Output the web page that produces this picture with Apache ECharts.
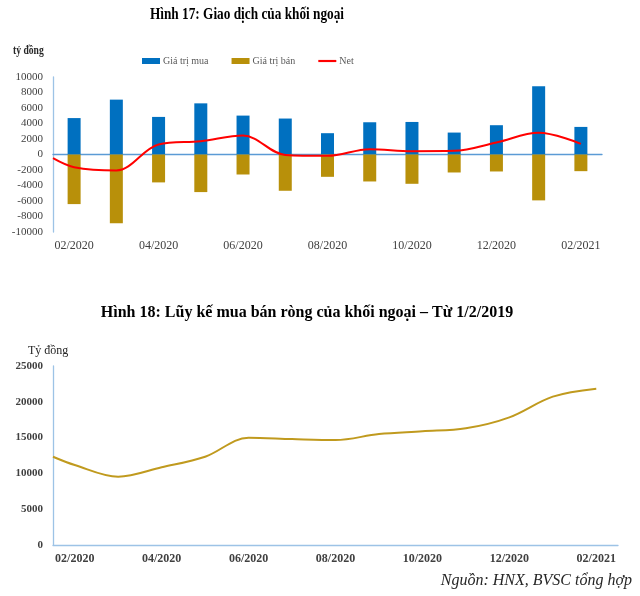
<!DOCTYPE html>
<html><head><meta charset="utf-8">
<script src="https://cdn.jsdelivr.net/npm/echarts@6/dist/echarts.min.js"></script>
<style>html,body{margin:0;padding:0;background:#fff}#c{width:640px;height:596px}</style>
</head><body><div id="c"></div>
<script>
const categories = ['02/2020','03/2020','04/2020','05/2020','06/2020','07/2020','08/2020','09/2020','10/2020','11/2020','12/2020','01/2021','02/2021'];
const buyValues  = [4700, 7080, 4850, 6600, 5020, 4640, 2750, 4160, 4200, 2830, 3780, 8800, 3560];
const sellValues = [-6400, -8880, -3600, -4850, -2580, -4680, -2880, -3480, -3780, -2320, -2190, -5920, -2150];
const netStart = -480;
const netValues  = [-1640, -2060, 1290, 1720, 2450, -50, -170, 690, 430, 470, 1550, 2800, 1380];
const cumStart = 12330;
const cumValues  = [11170, 9540, 10850, 12330, 14990, 14800, 14660, 15500, 15880, 16300, 17830, 20720, 21830];

const serif = '"Liberation Serif", "Times New Roman", serif';
const lineData = (start, vals) => [[-0.5, start]].concat(vals.map((v, i) => [i, v]));
const plain = v => String(v);

const chart = echarts.init(document.getElementById('c'), null, {renderer: 'canvas'});
chart.setOption({
  animation: false,
  backgroundColor: '#fff',
  textStyle: {fontFamily: serif},
  title: [
    {text: 'Hình 18: Lũy kế mua bán ròng của khối ngoại – Từ 1/2/2019', left: 302, top: 300, textAlign: 'center',
     textStyle: {fontFamily: serif, fontSize: 16, fontWeight: 'bold', color: '#000'}}
  ],
  graphic: [
    {type: 'text', x: 247, y: 7, scaleX: 0.83, style: {text: 'Hình 17: Giao dịch của khối ngoại', align: 'center', font: 'bold 16px ' + serif, fill: '#000'}},
    {type: 'text', x: 13, y: 45, scaleX: 0.8, style: {text: 'tỷ đồng', font: 'bold 12px ' + serif, fill: '#262626'}},
    {type: 'text', left: 28, top: 345, style: {text: 'Tỷ đồng', font: '12px ' + serif, fill: '#262626'}},
    {type: 'text', right: 8, top: 573, style: {text: 'Nguồn: HNX, BVSC tổng hợp', font: 'italic 16px ' + serif, fill: '#262626'}}
  ],
  legend: {
    left: 142, top: 56, padding: 0, itemWidth: 18, itemHeight: 6, itemGap: 23,
    textStyle: {fontFamily: serif, fontSize: 10, color: '#595959', padding: [0, 0, 0, -2]},
    data: [{name: 'Giá trị mua', icon: 'rect'}, {name: 'Giá trị bán', icon: 'rect'},
           {name: 'Net', icon: 'path://M0 0H20V2.4H0Z'}]
  },
  grid: [
    {left: 53, top: 77, width: 549, height: 155},
    {left: 53, top: 366, width: 565, height: 179}
  ],
  xAxis: [
    {gridIndex: 0, type: 'category', data: categories, boundaryGap: true,
     axisLine: {show: false, onZero: false}, axisTick: {show: false},
     axisLabel: {interval: 1, margin: 8, fontFamily: serif, fontSize: 12, color: '#404040'}},
    {gridIndex: 0, type: 'value', min: -0.5, max: 12.5, position: 'bottom',
     axisLine: {show: true, onZero: true, lineStyle: {color: '#5B9BD5', width: 1.3}},
     axisTick: {show: false}, axisLabel: {show: false}, splitLine: {show: false}},
    {gridIndex: 1, type: 'category', data: categories, boundaryGap: true,
     axisLine: {show: true, onZero: false, lineStyle: {color: '#9DC3E6', width: 1.3}}, axisTick: {show: false},
     axisLabel: {interval: 1, margin: 8, fontFamily: serif, fontSize: 12, fontWeight: 'bold', color: '#404040'}},
    {gridIndex: 1, type: 'value', min: -0.5, max: 12.5, show: false}
  ],
  yAxis: [
    {gridIndex: 0, type: 'value', min: -10000, max: 10000, interval: 2000,
     axisLine: {show: true, onZero: false, lineStyle: {color: '#9DC3E6', width: 1.3}}, axisTick: {show: false},
     splitLine: {show: false},
     axisLabel: {margin: 10, fontFamily: serif, fontSize: 11, color: '#404040', formatter: plain}},
    {gridIndex: 1, type: 'value', min: 0, max: 25000, interval: 5000,
     axisLine: {show: true, onZero: false, lineStyle: {color: '#9DC3E6', width: 1.3}}, axisTick: {show: false},
     splitLine: {show: false},
     axisLabel: {margin: 10, fontFamily: serif, fontSize: 11, fontWeight: 'bold', color: '#404040', formatter: plain}}
  ],
  series: [
    {name: 'Giá trị mua', type: 'bar', xAxisIndex: 0, yAxisIndex: 0, stack: 'gd', barWidth: 13,
     itemStyle: {color: '#0070C0'}, data: buyValues},
    {name: 'Giá trị bán', type: 'bar', xAxisIndex: 0, yAxisIndex: 0, stack: 'gd', barWidth: 13,
     itemStyle: {color: '#B8900A'}, data: sellValues},
    {name: 'Net', type: 'line', xAxisIndex: 1, yAxisIndex: 0, smooth: 0.35, symbol: 'none',
     lineStyle: {color: '#FF0000', width: 2}, itemStyle: {color: '#FF0000'}, z: 5,
     data: lineData(netStart, netValues)},
    {name: 'Lũy kế', type: 'line', xAxisIndex: 3, yAxisIndex: 1, smooth: 0.35, symbol: 'none',
     lineStyle: {color: '#C09A1E', width: 2}, itemStyle: {color: '#C09A1E'},
     data: lineData(cumStart, cumValues)}
  ]
});
</script></body></html>
